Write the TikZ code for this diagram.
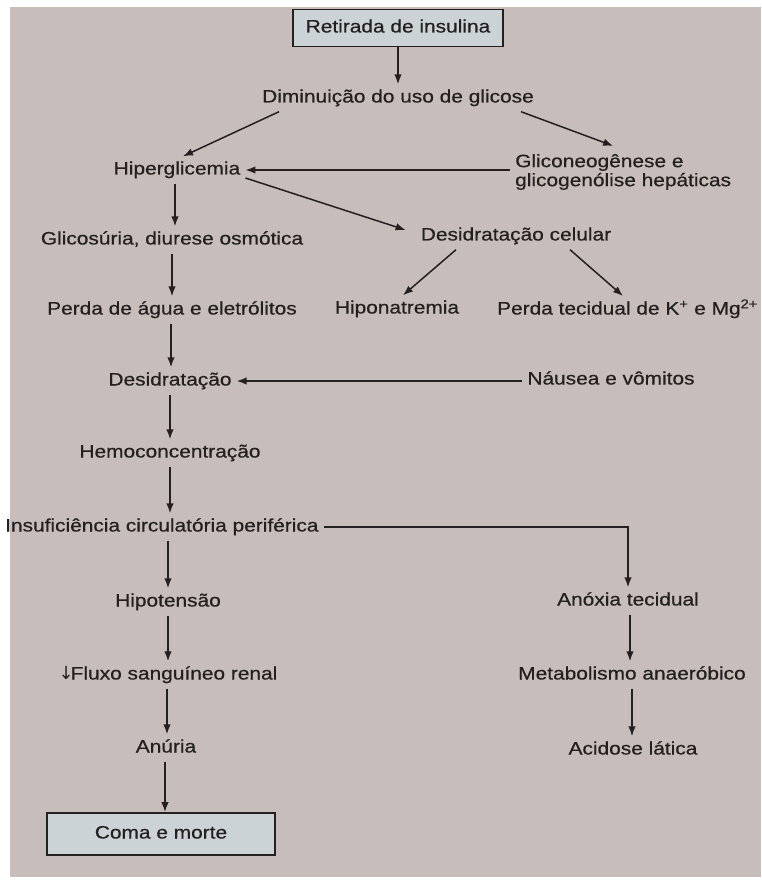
\documentclass[tikz,border=0pt]{standalone}
\usepackage{fontspec}
\setmainfont{Liberation Sans}[FakeStretch=1.16,FakeBold=0.6]
\newfontfamily\arrowfont{DejaVu Sans}
\usetikzlibrary{arrows.meta}
\definecolor{paper}{RGB}{199,190,188}
\definecolor{boxfill}{RGB}{204,211,215}
\definecolor{ink}{RGB}{36,32,32}
\tikzset{
  lbl/.style={inner sep=5pt,text height=13pt,text depth=4pt,text=ink,font=\fontsize{18}{19}\selectfont},
  boxed/.style={lbl,draw=ink,line width=1.8pt,fill=boxfill},
  arr/.style={draw=ink,line width=1.5pt,-{Latex[length=10pt,width=7.5pt]}}
}

\begin{document}
\begin{tikzpicture}[x=1pt,y=-1pt]
    \useasboundingbox (0,0) rectangle (761,882);
    \fill[white] (0,0) rectangle (761,882);
    \fill[paper] (10,7) rectangle (761,877);
    \node[boxed,minimum width=210pt,minimum height=37pt] (ret) at (398,28) {Retirada de insulina};
    \node[lbl] (dim) at (398,98) {Diminuição do uso de glicose};
    \node[lbl] (hip) at (177,170) {Hiperglicemia};
    \node[lbl,anchor=west,align=left,text height={},text depth={}] (glc) at (510,172) {Gliconeogênese e\\glicogenólise hepáticas};
    \node[lbl] (gli) at (172,240) {Glicosúria, diurese osmótica};
    \node[lbl] (dcel) at (516,236) {Desidratação celular};
    \node[lbl] (per) at (172,310) {Perda de água e eletrólitos};
    \node[lbl] (hipo) at (397,309) {Hiponatremia};
    \node[lbl,anchor=east] (kmg) at (763,310) {Perda tecidual de K\textsuperscript{+} e Mg\textsuperscript{2+}};
    \node[lbl] (des) at (170,381) {Desidratação};
    \node[lbl] (nau) at (611,380) {Náusea e vômitos};
    \node[lbl] (hem) at (170,453) {Hemoconcentração};
    \node[lbl,anchor=west] (ins) at (0,527) {Insuficiência circulatória periférica};
    \node[lbl] (hipt) at (168,602) {Hipotensão};
    \node[lbl] (anox) at (628,601) {Anóxia tecidual};
    \node[lbl] (flx) at (168,675) {{\arrowfont ↓}\kern-3pt Fluxo sanguíneo renal};
    \node[lbl] (meta) at (632,675) {Metabolismo anaeróbico};
    \node[lbl] (anu) at (166,748) {Anúria};
    \node[lbl] (aci) at (633,750) {Acidose lática};
    \node[boxed,minimum width=228pt,minimum height=42pt] (coma) at (161,834) {Coma e morte};
    \draw[arr] (ret) -- (dim);
    \draw[arr] ([xshift=22pt]dim.south west) -- ([xshift=6pt]hip.north);
    \draw[arr] ([xshift=-18pt]dim.south east) -- ([xshift=-10pt,yshift=3pt]glc.north);
    \draw[arr] (glc.west |- hip.east) -- (hip.east);
    \draw[arr] ([yshift=-8pt]hip.east) -- ([xshift=-10pt,yshift=6pt]dcel.west);
    \draw[arr] ([xshift=-2pt]hip.south) -- ([xshift=-2pt]hip.south |- gli.north);
    \draw[arr] (gli) -- (per);
    \draw[arr] ([xshift=-60pt]dcel.south) -- ([xshift=6pt]hipo.north);
    \draw[arr] ([xshift=54pt]dcel.south) -- (623,296);
    \draw[arr] ([xshift=-1pt]per.south) -- ([xshift=-1pt]per.south |- des.north);
    \draw[arr] (nau.west |- des.east) -- (des.east);
    \draw[arr] (des) -- (hem);
    \draw[arr] (hem) -- (hem |- ins.north);
    \draw[arr] (ins.east) -| (anox.north);
    \draw[arr] (hipt |- ins.south) -- (hipt);
    \draw[arr] (hipt) -- (flx);
    \draw[arr] ([xshift=-1pt]flx.south) -- ([xshift=-1pt]flx.south |- anu.north);
    \draw[arr] ([xshift=-1pt]anu.south) -- ([xshift=-1pt]anu.south |- coma.north);
    \draw[arr] ([xshift=2pt]anox.south) -- ([xshift=2pt]anox.south |- meta.north);
    \draw[arr] (meta.south) -- (meta.south |- aci.north);
\end{tikzpicture}
\end{document}
